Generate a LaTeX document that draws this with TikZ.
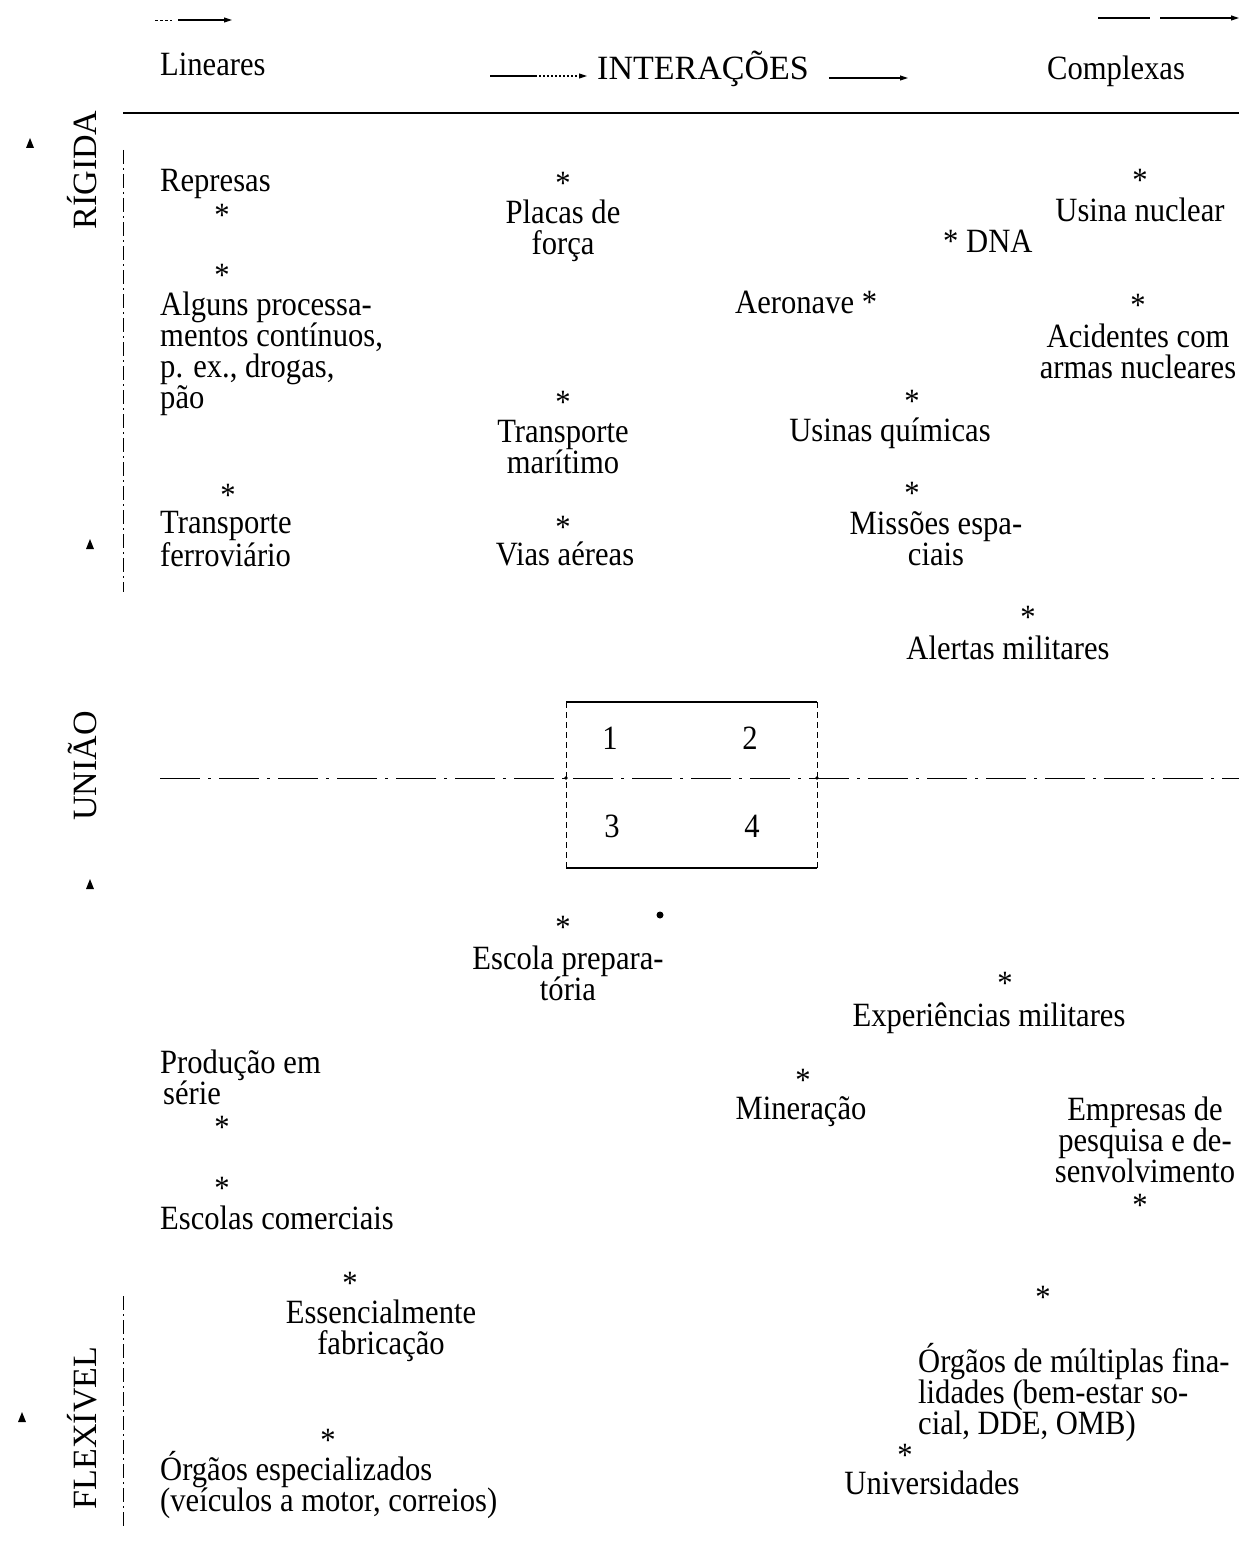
\documentclass[tikz,border=0pt]{standalone}
\usepackage{fontspec}
\setmainfont{Liberation Serif}[FakeStretch=0.9]
\newfontfamily\plainserif{Liberation Serif}
\usetikzlibrary{arrows.meta}
\newcommand{\mystarmark}{\raisebox{-0.28em}[0.40em][0pt]{*}}
\begin{document}
\begin{tikzpicture}[x=1pt,y=-1pt,
  txt/.style={font=\fontsize{34}{31}\selectfont, inner sep=0pt, anchor=base},
  txtl/.style={txt, anchor=base west, align=left},
  txtc/.style={txt, align=center},
  st/.style={font=\fontsize{34}{31}\selectfont, inner sep=0pt, anchor=center},
  axlabel/.style={font=\plainserif\fontsize{34}{31}\selectfont, inner sep=0pt, rotate=90, anchor=center},
  arr/.style={line width=1.1pt, -{Triangle[length=8pt,width=5pt]}},
  rule/.style={line width=1.4pt},
  vaxis/.style={line width=0.6pt, dash pattern=on 14pt off 4pt on 2pt off 4pt},
  midline/.style={line width=1pt, dash pattern=on 40pt off 8pt on 3pt off 8pt},
  boxside/.style={line width=0.6pt, dash pattern=on 6pt off 4pt},
  tri/.style={fill=black}
]
\useasboundingbox (0,0) rectangle (1239,1565);

% ---------- header arrows ----------
\coordinate (a0s) at (155,20); \coordinate (a0m) at (178,20); \coordinate (a0e) at (232,20);
\draw[line width=0.8pt, dash pattern=on 3pt off 2pt] (a0s) -- (172,20);
\draw[arr] (a0m) -- (a0e);
\coordinate (a3s) at (1098,18); \coordinate (a3e) at (1239,18);
\draw[line width=1.1pt] (a3s) -- (1150,18);
\draw[arr] (1160,18) -- (a3e);

\node[txt, anchor=base west] (lin) at (160,76) {Lineares};
\node[txt, font=\plainserif\fontsize{34}{31}\selectfont, anchor=base west] (inter) at (597,80) {INTERAÇÕES};
\node[txt, anchor=base west] (comp) at (1047,80) {Complexas};
\coordinate (a1s) at (490,76); \coordinate (a2e) at (908,78);
\draw[line width=1.1pt] (a1s) -- (535,76);
\draw[arr, dash pattern=on 2pt off 2pt] (535,76) -- ([xshift=-10pt]inter.west |- 0,76);
\draw[line width=1.1pt] ([xshift=20pt]inter.east |- 0,78) -- (885,78);
\draw[arr] (885,78) -- (a2e);

% top rule
\coordinate (r0) at (123,113); \coordinate (r1) at (1239,113);
\draw[rule] (r0) -- (r1);

% ---------- left axis ----------
\node[axlabel] (rig) at (82,170) {RÍGIDA};
\node[axlabel] (uni) at (82,766) {UNIÃO};
\node[axlabel] (flex) at (82,1428) {FLEXÍVEL};
\fill[tri] (30,138) -- (26,148) -- (34,148) -- cycle;
\fill[tri] (90,539) -- (86,549) -- (94,549) -- cycle;
\fill[tri] (90,879) -- (86,889) -- (94,889) -- cycle;
\fill[tri] (22,1412) -- (18,1422) -- (26,1422) -- cycle;
\coordinate (v0) at (123,150); \coordinate (v1) at (123,592);
\coordinate (v2) at (123,1296); \coordinate (v3) at (123,1528);
\draw[vaxis] (v0) -- (v1);
\draw[vaxis] (v2) -- (v3);

% ---------- middle line and box ----------
\coordinate (m0) at (160,778); \coordinate (m1) at (1239,778);
\draw[midline] (m0) -- (m1);
\coordinate (bnw) at (566,702); \coordinate (bne) at (817,702);
\coordinate (bsw) at (566,868); \coordinate (bse) at (817,868);
\draw[line width=1.2pt] (bnw) -- (bne);
\draw[line width=1.2pt] (bsw) -- (bse);
\draw[boxside] (bnw) -- (bsw);
\draw[boxside] (bne) -- (bse);
\fill (566,778) circle (1.8pt);
\fill (817,778) circle (1.8pt);
\node[txt] (n1) at (610,749) {1};
\node[txt] (n2) at (750,749) {2};
\node[txt] (n3) at (612,837) {3};
\node[txt] (n4) at (752,837) {4};

% ---------- upper region items (multi-line nodes: base = last line) ----------
\node[txtl] (rep) at (160,192) {Represas};
\node[st] (s1) at (222,210) {\mystarmark};
\node[st] (s2) at (222,270) {\mystarmark};
\node[txtl] (alg) at (160,408) {Alguns processa-\\mentos contínuos,\\p. ex., drogas,\\pão};
\node[st] (s3) at (228,490) {\mystarmark};
\node[txtl] (ferr) at (160,566) {Transporte\\ferroviário};
\node[st] (s4) at (563,178) {\mystarmark};
\node[txtc] (plac) at (563,254) {Placas de\\força};
\node[st] (s5) at (563,397) {\mystarmark};
\node[txtc] (mar) at (563,473) {Transporte\\marítimo};
\node[st] (s6) at (563,522) {\mystarmark};
\node[txtc] (vias) at (565,565) {Vias aéreas};
\node[txtl] (aer) at (735,313) {Aeronave *};
\node[txtl] (dna) at (943,252) {* DNA};
\node[st] (s7) at (1140,175) {\mystarmark};
\node[txtc] (usn) at (1140,221) {Usina nuclear};
\node[st] (s8) at (1138,300) {\mystarmark};
\node[txtc] (acid) at (1138,378) {Acidentes com\\armas nucleares};
\node[st] (s9) at (912,396) {\mystarmark};
\node[txtc] (usq) at (890,441) {Usinas químicas};
\node[st] (s10) at (912,488) {\mystarmark};
\node[txtc] (miss) at (936,565) {Missões espa-\\ciais};
\node[st] (s11) at (1028,612) {\mystarmark};
\node[txtc] (alert) at (1008,659) {Alertas militares};

% ---------- lower region items ----------
\node[st] (s12) at (563,922) {\mystarmark};
\fill (660,915) circle (3.5pt);
\node[txtc] (esc) at (568,1000) {Escola prepara-\\tória};
\node[st] (s13) at (1005,978) {\mystarmark};
\node[txtc] (exp) at (989,1026) {Experiências militares};
\node[st] (s14) at (803,1075) {\mystarmark};
\node[txtc] (min) at (801,1119) {Mineração};
\node[txtc] (emp) at (1145,1182) {Empresas de\\pesquisa e de-\\senvolvimento};
\node[st] (s15) at (1140,1200) {\mystarmark};
\node[txtl] (prod) at (160,1104) {Produção em\\\hspace{3pt}série};
\node[st] (s16) at (222,1122) {\mystarmark};
\node[st] (s17) at (222,1183) {\mystarmark};
\node[txtl] (escc) at (160,1229) {Escolas comerciais};
\node[st] (s18) at (350,1278) {\mystarmark};
\node[txtc] (ess) at (381,1354) {Essencialmente\\fabricação};
\node[st] (s19) at (1043,1292) {\mystarmark};
\node[txtl] (orgm) at (918,1434) {Órgãos de múltiplas fina-\\lidades (bem-estar so-\\cial, DDE, OMB)};
\node[st] (s20) at (905,1450) {\mystarmark};
\node[txtc] (univ) at (932,1494) {Universidades};
\node[st] (s21) at (328,1435) {\mystarmark};
\node[txtl] (orge) at (160,1511) {Órgãos especializados\\(veículos a motor, correios)};
\end{tikzpicture}
\end{document}
